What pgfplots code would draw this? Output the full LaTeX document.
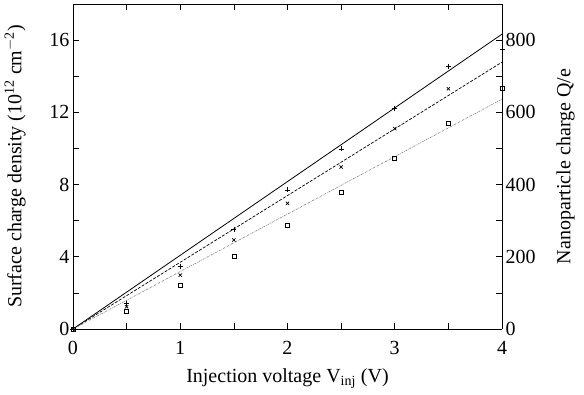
\documentclass[border=0pt]{standalone}
\usepackage{fontspec}
\setmainfont{Liberation Serif}
\usepackage{pgfplots}
\pgfplotsset{compat=1.18}
\begin{document}
\begin{tikzpicture}
\pgfplotsset{
  common/.style={
    scale only axis, width=429pt, height=325pt,
    xmin=0, xmax=4,
    /pgf/number format/assume math mode=true,
    tick label style={font=\fontsize{20}{22}\selectfont},
    label style={font=\fontsize{20}{22}\selectfont},
    tick align=inside,
    major tick length=6pt, minor tick length=6pt,
    every tick/.style={black, line width=0.6pt},
    axis line style={line width=0.9pt},
  }
}
\begin{axis}[common, name=ax,
  ymin=0, ymax=18,
  axis y line*=left, axis x line*=box,
  xtick={0,1,2,3,4}, minor xtick={0.5,1.5,2.5,3.5},
  ytick={0,4,8,12,16}, minor ytick={2,6,10,14},
  xticklabel style={yshift=-8.5pt},
  xlabel={Injection voltage V\textsubscript{inj} (V)},
  ylabel={Surface charge density (10\textsuperscript{12} cm\textsuperscript{$-$2})},
  xlabel style={yshift=-7pt},
  ylabel style={yshift=17pt},
  clip=true,
]
\addplot[black, line width=0.8pt] coordinates {(0,0) (4,16.33)};
\addplot[black, line width=0.7pt, dash pattern=on 3pt off 1.5pt] coordinates {(0,0) (4,14.78)};
\addplot[gray, line width=0.6pt, dash pattern=on 2pt off 1pt on 0.6pt off 1pt] coordinates {(0,0) (4,12.73)};
\addplot[only marks, mark=+, mark size=2.5pt, black, line width=0.5pt] coordinates {
(0,0) (0.5,1.43) (1,3.45) (1.5,5.52) (2,7.7) (2.5,9.97) (3,12.24) (3.5,14.56) (4,15.5)};
\addplot[only marks, mark=x, mark size=2.3pt, black, line width=0.7pt] coordinates {
(0,0) (0.5,1.23) (1,2.99) (1.5,4.93) (2,6.96) (2.5,8.97) (3,11.1) (3.5,13.3)};
\addplot[only marks, mark=square, mark size=2pt, black, line width=0.5pt] coordinates {
(0,0) (0.5,0.96) (1,2.4) (1.5,4.04) (2,5.76) (2.5,7.6) (3,9.45) (3.5,11.4) (4,13.36)};
\end{axis}
\begin{axis}[common,
  ymin=0, ymax=900,
  axis y line*=right, axis x line=none,
  ytick={0,200,400,600,800}, minor ytick={100,300,500,700},
  ylabel={Nanoparticle charge Q/e},
  ylabel style={yshift=-14pt},
]
\addplot[draw=none] coordinates {(0,0)};
\end{axis}
\pgfresetboundingbox
\path[use as bounding box] ([xshift=-73pt,yshift=-65pt]ax.south west) rectangle ([xshift=82pt,yshift=4pt]ax.north east);
\end{tikzpicture}
\end{document}
